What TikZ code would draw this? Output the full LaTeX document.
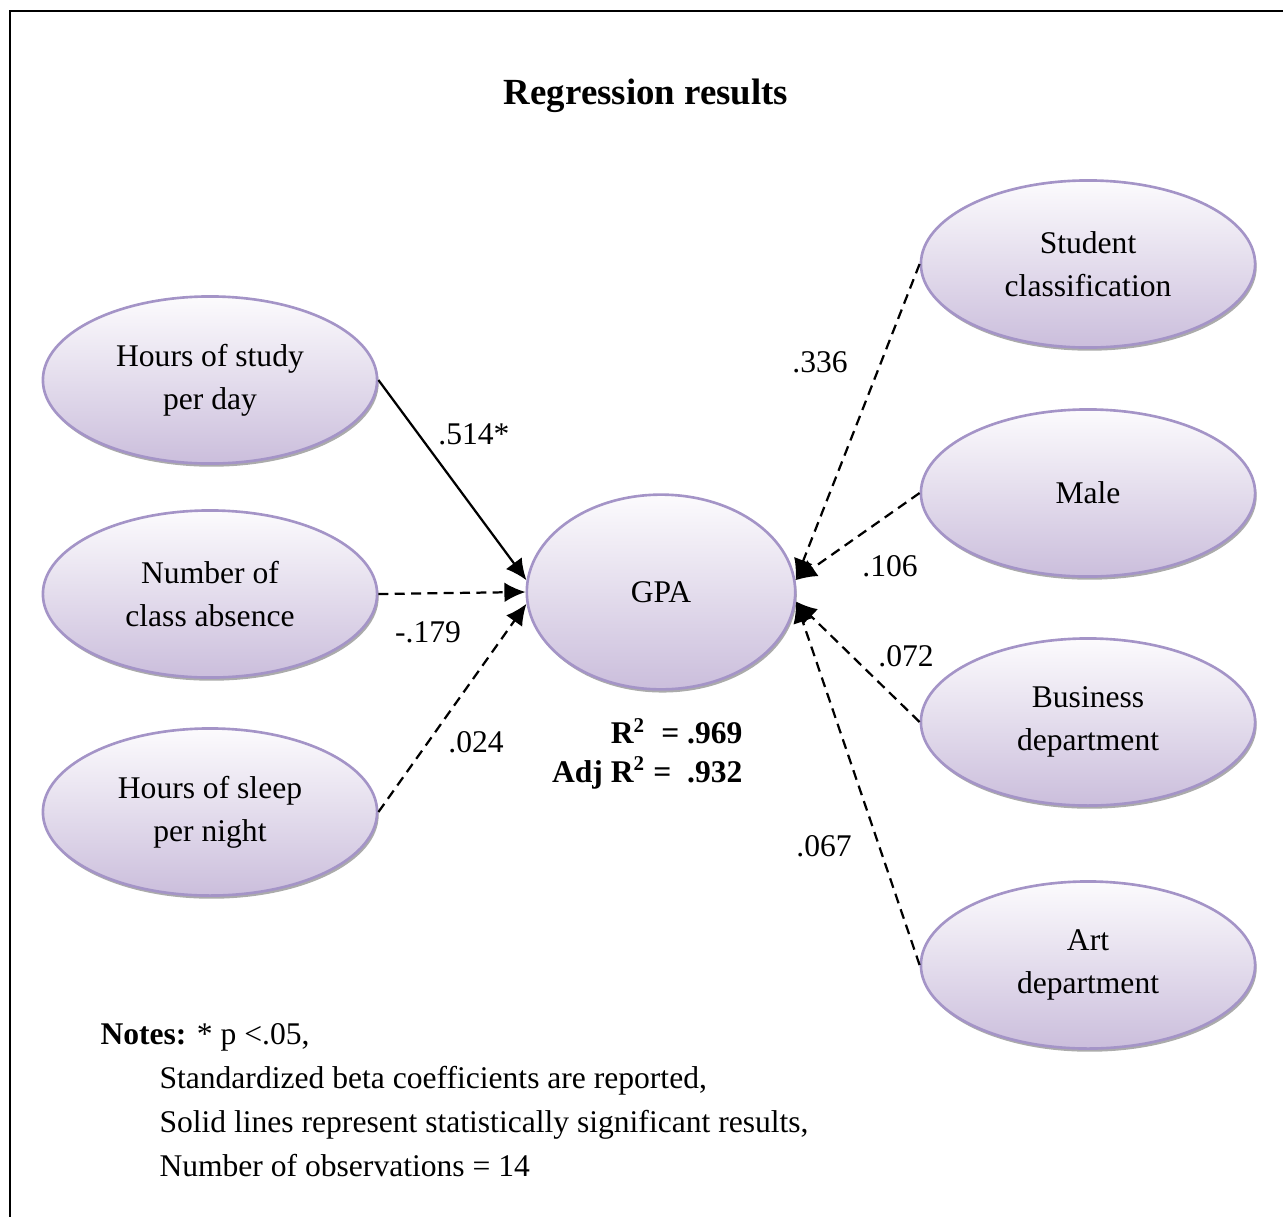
\documentclass[tikz,border=0pt]{standalone}
\usepackage{fontspec}
\setmainfont{Liberation Serif}
\usepackage{xcolor}
\usepackage{tikz}
\usetikzlibrary{arrows.meta,shapes.geometric,shadows}

\definecolor{ovalline}{HTML}{A494C7}
\definecolor{ovaltop}{HTML}{FCFBFD}
\definecolor{ovalbot}{HTML}{CBBEDC}

\tikzset{
  oval/.style={ellipse, draw=ovalline, line width=1pt, top color=ovaltop, bottom color=ovalbot,
    minimum width=127pt, minimum height=63.5pt, inner sep=0pt, align=center,
    font=\fontsize{12}{16.3}\selectfont,
    drop shadow={shadow xshift=0.6pt, shadow yshift=-1.2pt, fill=black!55, opacity=0.6}},
  sigpath/.style={-{Latex[length=8pt,width=7.5pt]}, line width=0.85pt},
  nspath/.style={sigpath, dash pattern=on 3.8pt off 2.4pt},
  coef/.style={font=\fontsize{12}{14}\selectfont, inner sep=0pt}
}

\begin{document}
\begin{tikzpicture}[x=0.38pt, y=-0.38pt]
  \useasboundingbox (0,0) rectangle (1283,1216);
  \draw[line width=1pt] (10,1300) -- (10,11) -- (1300,11);

  \node[font=\fontsize{14}{16}\selectfont\bfseries] (title) at (646,96) {Regression results};

  % predictors on the left
  \node[oval] (hstudy) at (210,380) {Hours of study\\per day};
  \node[oval] (nabs) at (210,594) {Number of\\class absence};
  \node[oval] (hsleep) at (210,812) {Hours of sleep\\per night};

  % outcome
  \node[oval, minimum width=102pt, minimum height=74pt, font=\fontsize{12}{14}\selectfont] (gpa) at (661,592) {GPA};

  % controls on the right
  \node[oval] (stucl) at (1088,264) {Student\\classification};
  \node[oval] (male) at (1088,493) {Male};
  \node[oval] (busdep) at (1088,722) {Business\\department};
  \node[oval] (artdep) at (1088,965) {Art\\department};

  \draw[sigpath] (hstudy.east) -- (gpa.175);
  \draw[nspath] (nabs.east) -- (gpa.180);
  \draw[nspath] (hsleep.east) -- (gpa.185);
  \draw[nspath] (stucl.west) -- (gpa.5);
  \draw[nspath] (male.west) -- (gpa.5);
  \draw[nspath] (busdep.west) -- (gpa.-4);
  \draw[nspath] (artdep.west) -- (gpa.-4);

  \node[coef] (b1) at (474,434) {.514*};
  \node[coef] (b2) at (428,632) {-.179};
  \node[coef] (b3) at (476,742) {.024};
  \node[coef] (b4) at (820,362) {.336};
  \node[coef] (b5) at (890,566) {.106};
  \node[coef] (b6) at (906,656) {.072};
  \node[coef] (b7) at (824,846) {.067};

  \node[coef, anchor=east, font=\fontsize{12}{14}\selectfont\bfseries] (rsq) at (743,731) {R\textsuperscript{2}\ \ = .969};
  \node[coef, anchor=east, font=\fontsize{12}{14}\selectfont\bfseries] (adjrsq) at (743,773) {Adj R\textsuperscript{2} = \ .932};

  % notes
  \node[coef, anchor=west] (notes) at (100,1037) {\textbf{Notes:} * p <.05,};
  \node[coef, anchor=north west, align=left, font=\fontsize{12}{16.6}\selectfont] (notelines) at (159,1066)
    {Standardized beta coefficients are reported,\\
     Solid lines represent statistically significant results,\\
     Number of observations = 14};
\end{tikzpicture}
\end{document}
